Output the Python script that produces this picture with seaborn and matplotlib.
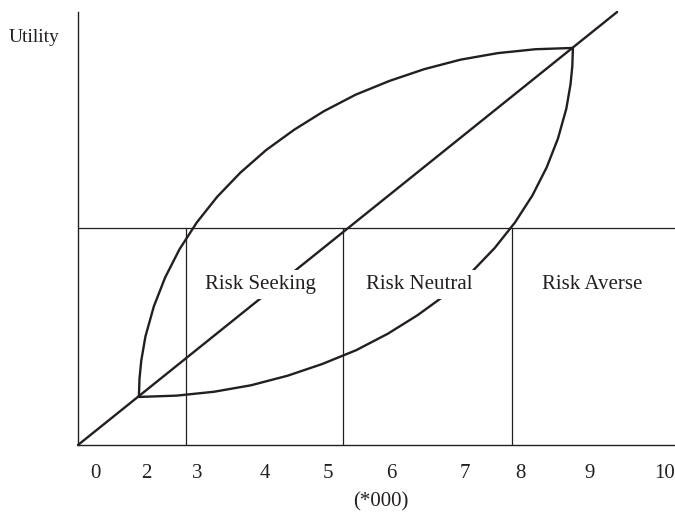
import numpy as np
import pandas as pd
import matplotlib
matplotlib.use("Agg")
import matplotlib.pyplot as plt
import seaborn as sns

# schematic coordinates (axis spans 0..10 both ways)
tick_pos = [0.29, 1.14, 2.0, 3.13, 4.19, 5.25, 6.48, 7.41, 8.57, 9.82]
tick_labels = ["0", "2", "3", "4", "5", "6", "7", "8", "9", "10"]

diag_x = [0.0, 9.03]
diag_y = [0.0, 10.0]

# concave (risk averse shape) curve from the low point to the high point
concave_x = [1.02, 1.03, 1.06, 1.13, 1.27, 1.46, 1.70, 1.99, 2.33, 2.72, 3.15,
             3.62, 4.12, 4.65, 5.22, 5.80, 6.41, 7.03, 7.66, 8.29]
concave_y = [1.11, 1.53, 1.95, 2.51, 3.20, 3.87, 4.52, 5.14, 5.73, 6.29, 6.81,
             7.28, 7.71, 8.09, 8.41, 8.68, 8.90, 9.05, 9.14, 9.17]

# convex (risk seeking shape) curve
convex_x = [1.02, 1.65, 2.28, 2.90, 3.51, 4.09, 4.66, 5.19, 5.69, 6.16, 6.59,
            6.98, 7.32, 7.61, 7.85, 8.04, 8.18, 8.25, 8.28, 8.29]
convex_y = [1.11, 1.14, 1.23, 1.38, 1.60, 1.87, 2.19, 2.57, 3.00, 3.47, 3.99,
            4.55, 5.14, 5.76, 6.41, 7.08, 7.77, 8.33, 8.75, 9.17]

utility_level = 5.0
dividers = [1.81, 4.44, 7.27]

regions = ["Risk Seeking", "Risk Neutral", "Risk Averse"]
region_x = [3.05, 5.71, 8.61]
region_y = 3.70

ink = "#231f20"

sns.set_style("white")
plt.rcParams['font.family'] = ['Liberation Serif', 'DejaVu Serif']

fig = plt.figure(figsize=(6.75, 5.13), dpi=100)
ax = fig.add_axes([78 / 675, 68 / 513, 597 / 675, 433 / 513])

curves = pd.DataFrame({
    "x": diag_x + concave_x + convex_x,
    "y": diag_y + concave_y + convex_y,
    "curve": ["diag"] * len(diag_x) + ["concave"] * len(concave_x) + ["convex"] * len(convex_x),
})
sns.lineplot(data=curves, x="x", y="y", units="curve", estimator=None, sort=False,
             color=ink, linewidth=1.7, ax=ax, clip_on=False)

ax.axhline(utility_level, color=ink, linewidth=0.9, zorder=1)
ax.vlines(dividers, 0, utility_level, color=ink, linewidth=0.9, zorder=1)

for label, x in zip(regions, region_x):
    ax.text(x, region_y, label, ha="center", va="center", fontsize=15, color=ink,
            zorder=5, bbox=dict(boxstyle="square,pad=0.25", fc="white", ec="none"))

ax.text(-0.74, 9.40, "Utility", ha="center", va="center", fontsize=14, color=ink,
        clip_on=False)

ax.set_xlim(0, 10)
ax.set_ylim(0, 10)
ax.set_xticks(tick_pos)
ax.set_xticklabels(tick_labels, fontsize=15, color=ink)
ax.set_yticks([])
ax.tick_params(axis="x", length=0, pad=14)
ax.set_xlabel("")
ax.set_ylabel("")
ax.text(0.507, -0.132, "(*000)", transform=ax.transAxes, ha="center", va="center",
        fontsize=15, color=ink, clip_on=False)

sns.despine(ax=ax)
for side in ["left", "bottom"]:
    ax.spines[side].set_color(ink)
    ax.spines[side].set_linewidth(1.0)

fig.savefig("out.png", dpi=100)
